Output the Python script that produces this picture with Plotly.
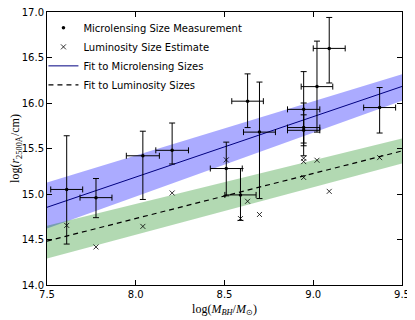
import plotly.graph_objects as go

# microlensing size measurements
mass_ml = [7.611, 7.776, 8.040, 8.205, 8.510, 8.590, 8.630, 8.697, 8.946, 8.946, 8.946, 9.021, 9.090, 9.374]
size_ml = [15.05, 14.96, 15.42, 15.48, 15.28, 14.99, 16.02, 15.68, 15.93, 15.73, 15.70, 16.18, 16.60, 15.95]
size_err_up = [0.59, 0.21, 0.27, 0.30, 0.29, 0.29, 0.30, 0.55, 0.415, 0.27, 0.17, 0.50, 0.34, 0.22]
size_err_dn = [0.60, 0.22, 0.48, 0.15, 0.30, 0.28, 0.29, 0.73, 0.37, 0.31, 0.17, 0.50, 0.38, 0.28]
mass_err = [0.09, 0.09, 0.093, 0.092, 0.09, 0.088, 0.089, 0.09, 0.091, 0.091, 0.091, 0.089, 0.09, 0.09]

# luminosity size estimates
mass_lum = [7.611, 7.776, 8.040, 8.205, 8.510, 8.590, 8.630, 8.697, 8.946, 8.946, 8.946, 9.021, 9.090, 9.374]
size_lum = [14.655, 14.418, 14.644, 15.011, 15.375, 14.73, 14.92, 14.775, 15.393, 15.356, 15.182, 15.371, 15.029, 15.40]

# fits and their bands (end points)
fit_x = [7.5, 9.5]
fit_ml = [14.854, 16.182]
band_ml_hi = [15.127, 16.316]
band_ml_lo = [14.62, 16.026]
fit_lum = [14.483, 15.473]
band_lum_hi = [14.65, 15.611]
band_lum_lo = [14.291, 15.334]

fig = go.Figure()

fig.add_trace(go.Scatter(x=fit_x, y=band_ml_lo, mode="lines", line=dict(width=0),
                         showlegend=False, hoverinfo="skip"))
fig.add_trace(go.Scatter(x=fit_x, y=band_ml_hi, mode="lines", line=dict(width=0),
                         fill="tonexty", fillcolor="rgba(0,0,255,0.33)",
                         showlegend=False, hoverinfo="skip"))
fig.add_trace(go.Scatter(x=fit_x, y=band_lum_lo, mode="lines", line=dict(width=0),
                         showlegend=False, hoverinfo="skip"))
fig.add_trace(go.Scatter(x=fit_x, y=band_lum_hi, mode="lines", line=dict(width=0),
                         fill="tonexty", fillcolor="rgba(0,128,0,0.3)",
                         showlegend=False, hoverinfo="skip"))

fig.add_trace(go.Scatter(x=fit_x, y=fit_ml, mode="lines", name="Fit to Microlensing Sizes",
                         line=dict(color="#000080", width=1), legendrank=3))
fig.add_trace(go.Scatter(x=fit_x, y=fit_lum, mode="lines", name="Fit to Luminosity Sizes",
                         line=dict(color="black", width=1.2, dash="5px,4px"), legendrank=4))

fig.add_trace(go.Scatter(x=mass_lum, y=size_lum, mode="markers", name="Luminosity Size Estimate",
                         marker=dict(symbol="x-thin", size=5, color="black",
                                     line=dict(color="black", width=0.8)),
                         legendrank=2))

fig.add_trace(go.Scatter(
    x=mass_ml, y=size_ml, mode="markers", name="Microlensing Size Measurement",
    marker=dict(symbol="circle", size=3.5, color="black"),
    error_y=dict(type="data", symmetric=False, array=size_err_up, arrayminus=size_err_dn,
                 color="black", thickness=1, width=3),
    error_x=dict(type="data", array=mass_err, color="black", thickness=1, width=3),
    legendrank=1))

axis_common = dict(showline=True, linecolor="black", linewidth=1, mirror="ticks",
                   ticks="inside", ticklen=5, tickcolor="black", showgrid=False,
                   zeroline=False, automargin=False, ticklabeloverflow="allow",
                   tickfont=dict(family="DejaVu Sans", size=10, color="black"))

fig.update_xaxes(range=[7.5, 9.5], tickvals=[7.5, 8.0, 8.5, 9.0, 9.5],
                 ticktext=["7.5", "8.0", "8.5", "9.0", "9.5"],
                 title=dict(text="log(<i>M</i><sub><i>BH</i></sub>/<i>M</i><sub>⊙</sub>)",
                            font=dict(family="Liberation Serif", size=12, color="black"),
                            standoff=5),
                 **axis_common)
fig.update_yaxes(range=[14.0, 17.0], tickvals=[14.0, 14.5, 15.0, 15.5, 16.0, 16.5, 17.0],
                 ticktext=["14.0", "14.5", "15.0", "15.5", "16.0", "16.5", "17.0"],
                 title=dict(text="log(<i>r</i><sub>2500Å</sub>/cm)",
                            font=dict(family="Liberation Serif", size=12, color="black"),
                            standoff=2),
                 **axis_common)

# the page body adds an 8px offset, so the figure is sized to end at the window edge
fig.update_layout(
    width=407, height=312,
    margin=dict(l=39, r=13, t=4, b=35),
    paper_bgcolor="white", plot_bgcolor="white",
    legend=dict(x=-0.01, y=0.995, xanchor="left", yanchor="top", traceorder="normal",
                bgcolor="rgba(0,0,0,0)", font=dict(family="DejaVu Sans", size=10, color="black"),
                tracegroupgap=0, itemwidth=30),
    showlegend=True,
)

fig.write_html("out.html")
